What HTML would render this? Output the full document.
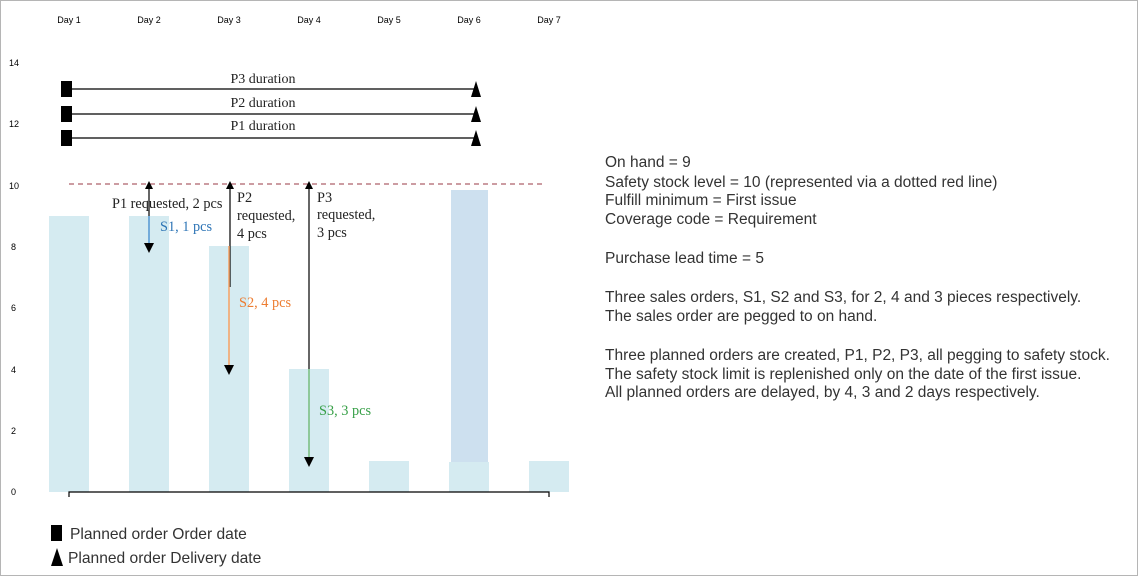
<!DOCTYPE html>
<html><head><meta charset="utf-8"><style>
body{margin:0;background:#fff}
svg{display:block}
</style></head><body>
<svg width="1138" height="576" xmlns="http://www.w3.org/2000/svg">
<rect x="0.5" y="0.5" width="1137" height="575" fill="#fff" stroke="#b5b5b5"/>
<g font-family="Liberation Sans, sans-serif" font-size="9" fill="#000" text-anchor="middle">
<text x="69" y="23">Day 1</text><text x="149" y="23">Day 2</text><text x="229" y="23">Day 3</text><text x="309" y="23">Day 4</text><text x="389" y="23">Day 5</text><text x="469" y="23">Day 6</text><text x="549" y="23">Day 7</text>
</g>
<g font-family="Liberation Sans, sans-serif" font-size="9" fill="#000">
<text x="9" y="66">14</text><text x="9" y="127">12</text><text x="9" y="189">10</text><text x="11" y="250">8</text><text x="11" y="311">6</text><text x="11" y="373">4</text><text x="11" y="434">2</text><text x="11" y="495">0</text>
</g>
<g fill="#d5ebf1">
<rect x="49" y="216" width="40" height="276"/>
<rect x="129" y="216" width="40" height="276"/>
<rect x="209" y="246" width="40" height="246"/>
<rect x="289" y="369" width="40" height="123"/>
<rect x="369" y="461" width="40" height="31"/>
<rect x="449" y="462" width="40" height="30"/>
<rect x="529" y="461" width="40" height="31"/>
</g>
<rect x="451" y="190" width="37" height="272" fill="#cde0ef"/>
<path d="M69 497V492H549V497" fill="none" stroke="#000" stroke-width="1.2"/>
<line x1="69" y1="184" x2="545" y2="184" stroke="#9a3a44" stroke-dasharray="5,4" stroke-width="1"/>
<g stroke="#000" stroke-width="1.2">
<line x1="66" y1="89" x2="476" y2="89"/><line x1="66" y1="114" x2="476" y2="114"/><line x1="66" y1="138" x2="476" y2="138"/>
</g>
<g fill="#000">
<rect x="61" y="81" width="11" height="16"/><rect x="61" y="106" width="11" height="16"/><rect x="61" y="130" width="11" height="16"/>
<polygon points="476,81 471,97 481,97"/><polygon points="476,106 471,122 481,122"/><polygon points="476,130 471,146 481,146"/>
</g>
<g font-family="Liberation Serif, serif" font-size="14" fill="#222" text-anchor="middle">
<text x="263" y="83">P3 duration</text><text x="263" y="107">P2 duration</text><text x="263" y="130">P1 duration</text>
</g>
<g stroke-width="1.2" fill="none">
<line x1="149" y1="188" x2="149" y2="216" stroke="#000"/>
<line x1="149" y1="216" x2="149" y2="244" stroke="#5b9bd5" stroke-width="1.6"/>
<line x1="230" y1="188" x2="230" y2="287" stroke="#000"/>
<line x1="229" y1="246" x2="229" y2="366" stroke="#f4a56b" stroke-width="1.6"/>
<line x1="309" y1="188" x2="309" y2="369" stroke="#000"/>
<line x1="309" y1="369" x2="309" y2="460" stroke="#7dbf85" stroke-width="1.6"/>
</g>
<g fill="#000">
<polygon points="149,181 145,189 153,189"/>
<polygon points="149,253 144,243 154,243"/>
<polygon points="230,181 226,189 234,189"/>
<polygon points="229,375 224,365 234,365"/>
<polygon points="309,181 305,189 313,189"/>
<polygon points="309,467 304,457 314,457"/>
</g>
<g font-family="Liberation Serif, serif" font-size="14.3" fill="#222">
<text x="112" y="208">P1 requested, 2 pcs</text>
<text x="237" y="202">P2</text><text x="237" y="220">requested,</text><text x="237" y="238">4 pcs</text>
<text x="317" y="202">P3</text><text x="317" y="219">requested,</text><text x="317" y="237">3 pcs</text>
<text x="160" y="231" fill="#2e75b6">S1, 1 pcs</text>
<text x="239" y="307" fill="#ed7d31">S2, 4 pcs</text>
<text x="319" y="415" fill="#38a048">S3, 3 pcs</text>
</g>
<rect x="51" y="525" width="11" height="16" fill="#000"/>
<polygon points="57,548 51,566 63,566" fill="#000"/>
<g font-family="Liberation Sans, sans-serif" font-size="15.6" fill="#333">
<text x="70" y="539">Planned order Order date</text>
<text x="68" y="563">Planned order Delivery date</text>
</g>
<g font-family="Liberation Sans, sans-serif" font-size="15.5" fill="#333">
<text x="605" y="167">On hand = 9</text>
<text x="605" y="187">Safety stock level = 10 (represented via a dotted red line)</text>
<text x="605" y="205">Fulfill minimum = First issue</text>
<text x="605" y="224">Coverage code = Requirement</text>
<text x="605" y="263">Purchase lead time = 5</text>
<text x="605" y="302">Three sales orders, S1, S2 and S3, for 2, 4 and 3 pieces respectively.</text>
<text x="605" y="321">The sales order are pegged to on hand.</text>
<text x="605" y="360">Three planned orders are created, P1, P2, P3, all pegging to safety stock.</text>
<text x="605" y="379">The safety stock limit is replenished only on the date of the first issue.</text>
<text x="605" y="397">All planned orders are delayed, by 4, 3 and 2 days respectively.</text>
</g>
</svg>
</body></html>
